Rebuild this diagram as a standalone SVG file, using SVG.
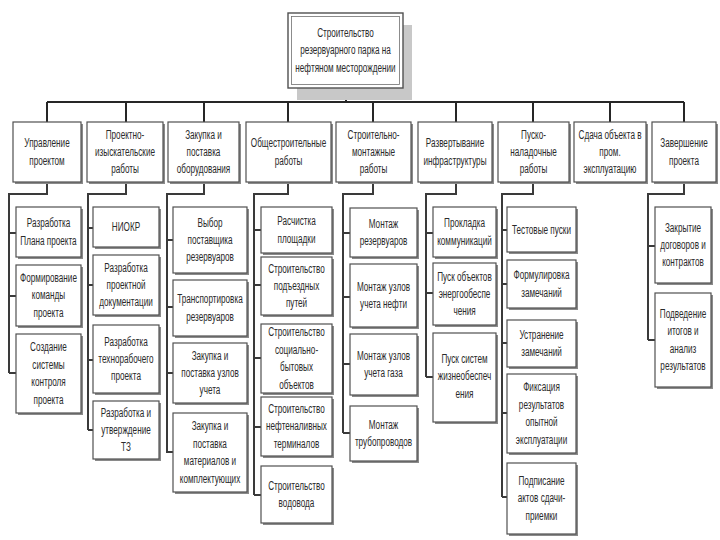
<svg xmlns="http://www.w3.org/2000/svg" width="720" height="540" viewBox="0 0 720 540">
<style>
.bg{fill:#ffffff}
.sh{fill:#8a8a8a}
.tsh{fill:#c8c8c8}
.bx{fill:#ffffff;stroke:#505050;stroke-width:1.2}
.tbx{fill:#ffffff;stroke:#505050;stroke-width:1.4}
.tin{fill:none;stroke:#707070;stroke-width:0.8}
.ln{fill:none;stroke:#262626;stroke-width:2;stroke-linejoin:miter}
.tr{fill:none;stroke:#3a3a3a;stroke-width:2}
.tx{font-family:"Liberation Sans",Arial,sans-serif;font-size:12px;fill:#2a2a2a;text-anchor:middle}
</style>
<rect class="bg" x="0" y="0" width="720" height="540"/>

<g id="connectors">
  <path class="ln" d="M346,88 V102 M47,102 H684 M47,102 V122 M126,102 V122 M204,102 V122 M288,102 V122 M373,102 V122 M456,102 V122 M533,102 V122 M610,102 V122 M684,102 V122"/>
  <path class="tr" d="M47,182 V194 H9 V373 M9,233 H16 M9,296 H16 M9,373 H16"/>
  <path class="tr" d="M126,182 V194 H88 V430 M88,228 H93 M88,285 H93 M88,360 H93 M88,430 H93"/>
  <path class="tr" d="M204,182 V194 H167 V453 M167,240 H173 M167,307 H173 M167,373 H173 M167,452 H173"/>
  <path class="tr" d="M288,182 V194 H254 V495 M254,230 H261 M254,285 H261 M254,358 H261 M254,427 H261 M254,495 H261"/>
  <path class="tr" d="M373,182 V194 H343 V433 M343,233 H350 M343,297 H350 M343,364 H350 M343,433 H350"/>
  <path class="tr" d="M456,182 V194 H426 V377 M426,233 H433 M426,293 H433 M426,377 H433"/>
  <path class="tr" d="M533,182 V194 H502 V497 M502,230 H507 M502,284 H507 M502,343 H507 M502,413 H507 M502,497 H507"/>
  <path class="tr" d="M684,182 V194 H648 V340 M648,246 H655 M648,340 H655"/>
</g>

<g id="root">
  <rect class="tsh" x="297" y="25" width="115" height="75"/>
  <rect class="tbx" x="288" y="13" width="115" height="75"/>
  <rect class="tin" x="291.5" y="16.5" width="108" height="68"/>
  <text class="tx" transform="translate(345.5,37) scale(0.68,1)"><tspan x="0">Строительство</tspan><tspan x="0" dy="17.5">резервуарного парка на</tspan><tspan x="0" dy="17.5">нефтяном месторождении</tspan></text>
</g>

<g id="n1">
  <rect class="sh" x="15" y="124" width="68" height="60"/><rect class="bx" x="13" y="122" width="68" height="60"/>
  <text class="tx" transform="translate(47,147.25) scale(0.68,1)"><tspan x="0">Управление</tspan><tspan x="0" dy="17.5">проектом</tspan></text>
</g>
<g id="n2">
  <rect class="sh" x="89" y="124" width="76" height="60"/><rect class="bx" x="87" y="122" width="76" height="60"/>
  <text class="tx" transform="translate(125,138.5) scale(0.68,1)"><tspan x="0">Проектно-</tspan><tspan x="0" dy="17.5">изыскательские</tspan><tspan x="0" dy="17.5">работы</tspan></text>
</g>
<g id="n3">
  <rect class="sh" x="170" y="124" width="71" height="60"/><rect class="bx" x="168" y="122" width="71" height="60"/>
  <text class="tx" transform="translate(203.5,138.5) scale(0.68,1)"><tspan x="0">Закупка и</tspan><tspan x="0" dy="17.5">поставка</tspan><tspan x="0" dy="17.5">оборудования</tspan></text>
</g>
<g id="n4">
  <rect class="sh" x="248" y="124" width="85" height="60"/><rect class="bx" x="246" y="122" width="85" height="60"/>
  <text class="tx" transform="translate(288.5,147.25) scale(0.68,1)"><tspan x="0">Общестроительные</tspan><tspan x="0" dy="17.5">работы</tspan></text>
</g>
<g id="n5">
  <rect class="sh" x="338" y="124" width="75" height="60"/><rect class="bx" x="336" y="122" width="75" height="60"/>
  <text class="tx" transform="translate(373.5,138.5) scale(0.68,1)"><tspan x="0">Строительно-</tspan><tspan x="0" dy="17.5">монтажные</tspan><tspan x="0" dy="17.5">работы</tspan></text>
</g>
<g id="n6">
  <rect class="sh" x="420" y="124" width="74" height="60"/><rect class="bx" x="418" y="122" width="74" height="60"/>
  <text class="tx" transform="translate(455,147.25) scale(0.68,1)"><tspan x="0">Развертывание</tspan><tspan x="0" dy="17.5">инфраструктуры</tspan></text>
</g>
<g id="n7">
  <rect class="sh" x="500" y="124" width="71" height="60"/><rect class="bx" x="498" y="122" width="71" height="60"/>
  <text class="tx" transform="translate(533.5,138.5) scale(0.68,1)"><tspan x="0">Пуско-</tspan><tspan x="0" dy="17.5">наладочные</tspan><tspan x="0" dy="17.5">работы</tspan></text>
</g>
<g id="n8">
  <rect class="sh" x="576" y="124" width="72" height="60"/><rect class="bx" x="574" y="122" width="72" height="60"/>
  <text class="tx" transform="translate(610,138.5) scale(0.68,1)"><tspan x="0">Сдача объекта в</tspan><tspan x="0" dy="17.5">пром.</tspan><tspan x="0" dy="17.5">эксплуатацию</tspan></text>
</g>
<g id="n9">
  <rect class="sh" x="654" y="124" width="64" height="60"/><rect class="bx" x="652" y="122" width="64" height="60"/>
  <text class="tx" transform="translate(684,147.25) scale(0.68,1)"><tspan x="0">Завершение</tspan><tspan x="0" dy="17.5">проекта</tspan></text>
</g>

<g id="n1a">
  <rect class="sh" x="18" y="209" width="65" height="50"/><rect class="bx" x="16" y="207" width="65" height="50"/>
  <text class="tx" transform="translate(48.5,227.25) scale(0.68,1)"><tspan x="0">Разработка</tspan><tspan x="0" dy="17.5">Плана проекта</tspan></text>
</g>
<g id="n1b">
  <rect class="sh" x="18" y="267" width="65" height="61"/><rect class="bx" x="16" y="265" width="65" height="61"/>
  <text class="tx" transform="translate(48.5,282) scale(0.68,1)"><tspan x="0">Формирование</tspan><tspan x="0" dy="17.5">команды</tspan><tspan x="0" dy="17.5">проекта</tspan></text>
</g>
<g id="n1c">
  <rect class="sh" x="18" y="336" width="65" height="79"/><rect class="bx" x="16" y="334" width="65" height="79"/>
  <text class="tx" transform="translate(48.5,351.25) scale(0.68,1)"><tspan x="0">Создание</tspan><tspan x="0" dy="17.5">системы</tspan><tspan x="0" dy="17.5">контроля</tspan><tspan x="0" dy="17.5">проекта</tspan></text>
</g>

<g id="n2a">
  <rect class="sh" x="95" y="209" width="66" height="40"/><rect class="bx" x="93" y="207" width="66" height="40"/>
  <text class="tx" transform="translate(126,231) scale(0.68,1)"><tspan x="0">НИОКР</tspan></text>
</g>
<g id="n2b">
  <rect class="sh" x="95" y="257" width="66" height="60"/><rect class="bx" x="93" y="255" width="66" height="60"/>
  <text class="tx" transform="translate(126,271.5) scale(0.68,1)"><tspan x="0">Разработка</tspan><tspan x="0" dy="17.5">проектной</tspan><tspan x="0" dy="17.5">документации</tspan></text>
</g>
<g id="n2c">
  <rect class="sh" x="95" y="327" width="66" height="68"/><rect class="bx" x="93" y="325" width="66" height="68"/>
  <text class="tx" transform="translate(126,345.5) scale(0.68,1)"><tspan x="0">Разработка</tspan><tspan x="0" dy="17.5">технорабочего</tspan><tspan x="0" dy="17.5">проекта</tspan></text>
</g>
<g id="n2d">
  <rect class="sh" x="95" y="403" width="66" height="58"/><rect class="bx" x="93" y="401" width="66" height="58"/>
  <text class="tx" transform="translate(126,416.5) scale(0.68,1)"><tspan x="0">Разработка и</tspan><tspan x="0" dy="17.5">утверждение</tspan><tspan x="0" dy="17.5">ТЗ</tspan></text>
</g>

<g id="n3a">
  <rect class="sh" x="175" y="209" width="74" height="66"/><rect class="bx" x="173" y="207" width="74" height="66"/>
  <text class="tx" transform="translate(210,226.5) scale(0.68,1)"><tspan x="0">Выбор</tspan><tspan x="0" dy="17.5">поставщика</tspan><tspan x="0" dy="17.5">резервуаров</tspan></text>
</g>
<g id="n3b">
  <rect class="sh" x="175" y="282" width="74" height="56"/><rect class="bx" x="173" y="280" width="74" height="56"/>
  <text class="tx" transform="translate(210,303.25) scale(0.68,1)"><tspan x="0">Транспортировка</tspan><tspan x="0" dy="17.5">резервуаров</tspan></text>
</g>
<g id="n3c">
  <rect class="sh" x="175" y="345" width="74" height="60"/><rect class="bx" x="173" y="343" width="74" height="60"/>
  <text class="tx" transform="translate(210,359.5) scale(0.68,1)"><tspan x="0">Закупка и</tspan><tspan x="0" dy="17.5">поставка узлов</tspan><tspan x="0" dy="17.5">учета</tspan></text>
</g>
<g id="n3d">
  <rect class="sh" x="175" y="415" width="74" height="79"/><rect class="bx" x="173" y="413" width="74" height="79"/>
  <text class="tx" transform="translate(210,430.25) scale(0.68,1)"><tspan x="0">Закупка и</tspan><tspan x="0" dy="17.5">поставка</tspan><tspan x="0" dy="17.5">материалов и</tspan><tspan x="0" dy="17.5">комплектующих</tspan></text>
</g>

<g id="n4a">
  <rect class="sh" x="263" y="209" width="71" height="46"/><rect class="bx" x="261" y="207" width="71" height="46"/>
  <text class="tx" transform="translate(296.5,225.25) scale(0.68,1)"><tspan x="0">Расчистка</tspan><tspan x="0" dy="17.5">площадки</tspan></text>
</g>
<g id="n4b">
  <rect class="sh" x="263" y="259" width="71" height="58"/><rect class="bx" x="261" y="257" width="71" height="58"/>
  <text class="tx" transform="translate(296.5,272.5) scale(0.68,1)"><tspan x="0">Строительство</tspan><tspan x="0" dy="17.5">подъездных</tspan><tspan x="0" dy="17.5">путей</tspan></text>
</g>
<g id="n4c">
  <rect class="sh" x="263" y="326" width="71" height="69"/><rect class="bx" x="261" y="324" width="71" height="69"/>
  <text class="tx" transform="translate(296.5,336.25) scale(0.68,1)"><tspan x="0">Строительство</tspan><tspan x="0" dy="17.5">социально-</tspan><tspan x="0" dy="17.5">бытовых</tspan><tspan x="0" dy="17.5">объектов</tspan></text>
</g>
<g id="n4d">
  <rect class="sh" x="263" y="399" width="71" height="59"/><rect class="bx" x="261" y="397" width="71" height="59"/>
  <text class="tx" transform="translate(296.5,413) scale(0.68,1)"><tspan x="0">Строительство</tspan><tspan x="0" dy="17.5">нефтеналивных</tspan><tspan x="0" dy="17.5">терминалов</tspan></text>
</g>
<g id="n4e">
  <rect class="sh" x="263" y="468" width="71" height="57"/><rect class="bx" x="261" y="466" width="71" height="57"/>
  <text class="tx" transform="translate(296.5,489.75) scale(0.68,1)"><tspan x="0">Строительство</tspan><tspan x="0" dy="17.5">водовода</tspan></text>
</g>

<g id="n5a">
  <rect class="sh" x="352" y="210" width="67" height="49"/><rect class="bx" x="350" y="208" width="67" height="49"/>
  <text class="tx" transform="translate(383.5,227.75) scale(0.68,1)"><tspan x="0">Монтаж</tspan><tspan x="0" dy="17.5">резервуаров</tspan></text>
</g>
<g id="n5b">
  <rect class="sh" x="352" y="266" width="67" height="63"/><rect class="bx" x="350" y="264" width="67" height="63"/>
  <text class="tx" transform="translate(383.5,290.75) scale(0.68,1)"><tspan x="0">Монтаж узлов</tspan><tspan x="0" dy="17.5">учета нефти</tspan></text>
</g>
<g id="n5c">
  <rect class="sh" x="352" y="336" width="67" height="61"/><rect class="bx" x="350" y="334" width="67" height="61"/>
  <text class="tx" transform="translate(383.5,359.75) scale(0.68,1)"><tspan x="0">Монтаж узлов</tspan><tspan x="0" dy="17.5">учета газа</tspan></text>
</g>
<g id="n5d">
  <rect class="sh" x="352" y="408" width="67" height="55"/><rect class="bx" x="350" y="406" width="67" height="55"/>
  <text class="tx" transform="translate(383.5,428.75) scale(0.68,1)"><tspan x="0">Монтаж</tspan><tspan x="0" dy="17.5">трубопроводов</tspan></text>
</g>

<g id="n6a">
  <rect class="sh" x="435" y="209" width="63" height="50"/><rect class="bx" x="433" y="207" width="63" height="50"/>
  <text class="tx" transform="translate(464.5,227.25) scale(0.68,1)"><tspan x="0">Прокладка</tspan><tspan x="0" dy="17.5">коммуникаций</tspan></text>
</g>
<g id="n6b">
  <rect class="sh" x="435" y="265" width="63" height="62"/><rect class="bx" x="433" y="263" width="63" height="62"/>
  <text class="tx" transform="translate(464.5,280.5) scale(0.68,1)"><tspan x="0">Пуск объектов</tspan><tspan x="0" dy="17.5">энергообеспе</tspan><tspan x="0" dy="17.5">чения</tspan></text>
</g>
<g id="n6c">
  <rect class="sh" x="435" y="335" width="63" height="89"/><rect class="bx" x="433" y="333" width="63" height="89"/>
  <text class="tx" transform="translate(464.5,363) scale(0.68,1)"><tspan x="0">Пуск систем</tspan><tspan x="0" dy="17.5">жизнеобеспеч</tspan><tspan x="0" dy="17.5">ения</tspan></text>
</g>

<g id="n7a">
  <rect class="sh" x="509" y="209" width="69" height="45"/><rect class="bx" x="507" y="207" width="69" height="45"/>
  <text class="tx" transform="translate(541.5,233.5) scale(0.68,1)"><tspan x="0">Тестовые пуски</tspan></text>
</g>
<g id="n7b">
  <rect class="sh" x="509" y="262" width="69" height="48"/><rect class="bx" x="507" y="260" width="69" height="48"/>
  <text class="tx" transform="translate(541.5,279.25) scale(0.68,1)"><tspan x="0">Формулировка</tspan><tspan x="0" dy="17.5">замечаний</tspan></text>
</g>
<g id="n7c">
  <rect class="sh" x="509" y="322" width="69" height="47"/><rect class="bx" x="507" y="320" width="69" height="47"/>
  <text class="tx" transform="translate(541.5,338.75) scale(0.68,1)"><tspan x="0">Устранение</tspan><tspan x="0" dy="17.5">замечаний</tspan></text>
</g>
<g id="n7d">
  <rect class="sh" x="509" y="376" width="69" height="79"/><rect class="bx" x="507" y="374" width="69" height="79"/>
  <text class="tx" transform="translate(541.5,391.25) scale(0.68,1)"><tspan x="0">Фиксация</tspan><tspan x="0" dy="17.5">результатов</tspan><tspan x="0" dy="17.5">опытной</tspan><tspan x="0" dy="17.5">эксплуатации</tspan></text>
</g>
<g id="n7e">
  <rect class="sh" x="509" y="465" width="69" height="71"/><rect class="bx" x="507" y="463" width="69" height="71"/>
  <text class="tx" transform="translate(541.5,485) scale(0.68,1)"><tspan x="0">Подписание</tspan><tspan x="0" dy="17.5">актов сдачи-</tspan><tspan x="0" dy="17.5">приемки</tspan></text>
</g>

<g id="n9a">
  <rect class="sh" x="657" y="209" width="56" height="76"/><rect class="bx" x="655" y="207" width="56" height="76"/>
  <text class="tx" transform="translate(683,231.5) scale(0.68,1)"><tspan x="0">Закрытие</tspan><tspan x="0" dy="17.5">договоров и</tspan><tspan x="0" dy="17.5">контрактов</tspan></text>
</g>
<g id="n9b">
  <rect class="sh" x="657" y="295" width="56" height="94"/><rect class="bx" x="655" y="293" width="56" height="94"/>
  <text class="tx" transform="translate(683,317.75) scale(0.68,1)"><tspan x="0">Подведение</tspan><tspan x="0" dy="17.5">итогов и</tspan><tspan x="0" dy="17.5">анализ</tspan><tspan x="0" dy="17.5">результатов</tspan></text>
</g>
</svg>
